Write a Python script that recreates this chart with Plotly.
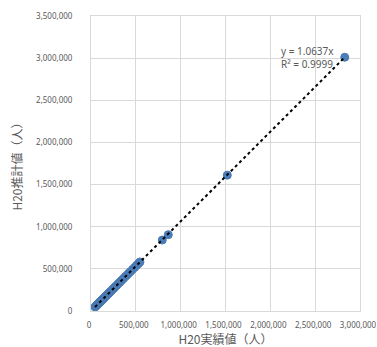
import plotly.graph_objects as go

# Actual (H20実績値) and estimated (H20推計値) values per region
actual = [45000, 52000, 60000, 68000, 75000, 83000, 90000, 98000, 105000, 113000,
          121000, 130000, 140000, 150000, 160000, 172000, 185000, 198000, 210000, 225000,
          240000, 255000, 270000, 288000, 305000, 322000, 340000, 360000, 380000, 400000,
          420000, 442000, 465000, 488000, 510000, 530000, 546000, 795000, 862000, 1520000,
          2830000]
estimated = [48500, 54800, 64100, 71900, 80300, 87900, 96200, 103800, 112300, 119700,
             129400, 137900, 149600, 158900, 170800, 182300, 197500, 209900, 224100, 238600,
             256000, 270500, 288100, 305400, 325300, 341700, 362500, 382000, 405100, 424600,
             447800, 469300, 495500, 518100, 543500, 562700, 581600, 842000, 905000, 1612000,
             3011000]

# Linear trendline through the origin
slope = 1.0637
r_squared = 0.9999

x_ticks = [0, 500000, 1000000, 1500000, 2000000, 2500000, 3000000]
y_ticks = [0, 500000, 1000000, 1500000, 2000000, 2500000, 3000000, 3500000]

grey_text = "#595959"
grid = "#D9D9D9"

fig = go.Figure()
fig.add_trace(go.Scatter(
    x=actual, y=estimated, mode="markers",
    marker=dict(size=8, color="#4A7EBB", line=dict(width=1, color="#4A78B0")),
    showlegend=False, hoverinfo="x+y",
))
x_line = [min(actual), max(actual)]
fig.add_trace(go.Scatter(
    x=x_line, y=[slope * v for v in x_line], mode="lines",
    line=dict(color="black", width=2, dash="dot"),
    showlegend=False, hoverinfo="skip",
))

fig.add_annotation(
    xref="paper", yref="paper", x=0.699, y=0.86, xanchor="left", yanchor="middle",
    text=f"y = {slope}x<br>R² = {r_squared}", showarrow=False, align="left",
    font=dict(family="Noto Sans, sans-serif", size=10, color=grey_text),
)

axis_common = dict(
    showgrid=True, gridcolor=grid, gridwidth=1,
    showline=True, linecolor=grid, linewidth=1,
    zeroline=False, ticks="", tickformat=",", tickangle=0,
    automargin=False, ticklabeloverflow="allow",
    tickfont=dict(family="Noto Sans, sans-serif", size=8, color=grey_text),
    title_font=dict(family="Noto Sans CJK JP, sans-serif", size=12, color=grey_text),
)

fig.update_layout(
    width=377, height=347,
    margin=dict(l=91, r=17, t=16, b=36),
    paper_bgcolor="white", plot_bgcolor="white",
    xaxis=dict(range=[0, 3000000], tickvals=x_ticks, mirror=True,
               ticklabelstandoff=6, ticklabelshift=-2,
               title=dict(text="H20実績値（人）", standoff=6), **axis_common),
    yaxis=dict(range=[0, 3500000], tickvals=y_ticks, mirror=True, ticklabelstandoff=16,
               title=dict(text="H20推計値（人）", standoff=10), **axis_common),
)

fig.write_html("out.html")
